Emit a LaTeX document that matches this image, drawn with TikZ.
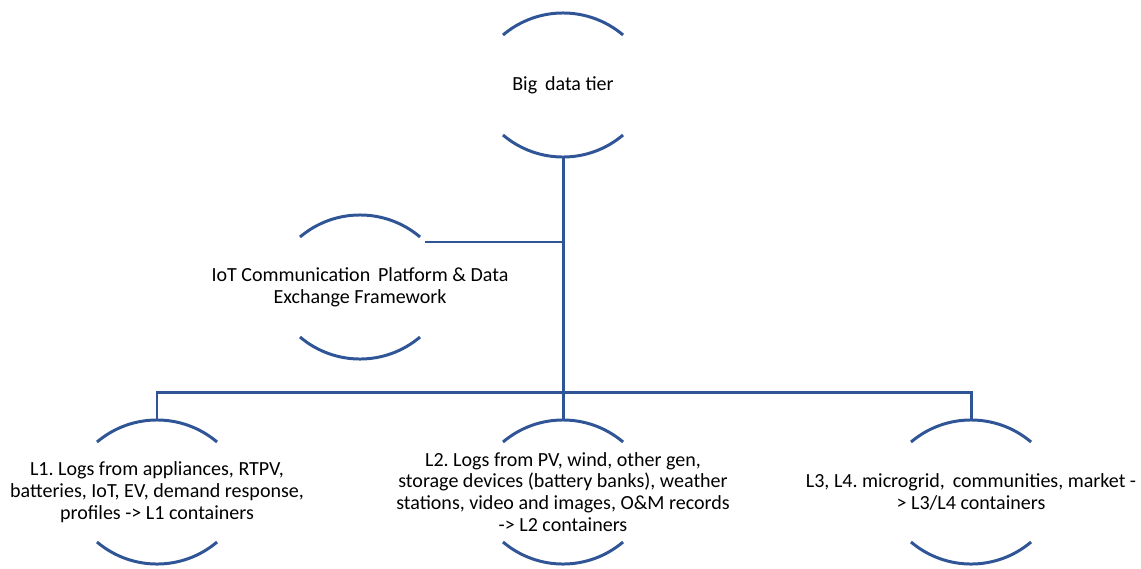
\documentclass[tikz,border=0pt]{standalone}
\usepackage{fontspec}
\setmainfont{Carlito}
\usetikzlibrary{calc}
\definecolor{arcblue}{RGB}{47,85,151}
\frenchspacing

\begin{document}
\begin{tikzpicture}[x=0.02cm, y=0.02cm,
    tier/.style={minimum height=2.88cm, align=center, inner sep=0pt,
                 font=\fontsize{11.4}{12.4}\selectfont},
    link/.style={draw=arcblue, line width=1.7pt}]
    \useasboundingbox (0,0) rectangle (1141,-568);
    % Tiers
    \node[tier] (big) at (563,-85) {Big\, data tier};
    \node[tier] (iot) at (360,-287) {IoT Communication\, Platform \& Data\\Exchange Framework};
    \node[tier] (l1) at (157,-492) {L1. Logs from appliances, RTPV,\\batteries, IoT, EV, demand response,\\profiles -> L1 containers};
    \node[tier] (l2) at (563,-492) {L2. Logs from PV, wind, other gen,\\storage devices (battery banks), weather\\stations, video and images, O\&M records\\-> L2 containers};
    \node[tier] (l3) at (971,-492) {L3, L4. microgrid,\, communities, market -\\> L3/L4 containers};
    
    % Arcs above and below each tier
    \foreach \n in {big,iot,l1,l2,l3} {
        \draw[link] ($(\n)+(-60,50)$) arc[start angle=130.3, end angle=49.7, radius=92.8];
        \draw[link] ($(\n)+(-60,-50)$) arc[start angle=229.7, end angle=310.3, radius=92.8];
    }
    
    % Connectors
    \coordinate (bus) at (563,-392);
    \coordinate (iotjoin) at ($(iot)+(65,45)$);
    \draw[link] (big.south) -- (bus);
    \draw[link] (iotjoin) -- (iotjoin -| big.south);
    \draw[link] (l1.north) |- (bus) -| (l3.north);
    \draw[link] (bus) -- (l2.north);
\end{tikzpicture}
\end{document}
